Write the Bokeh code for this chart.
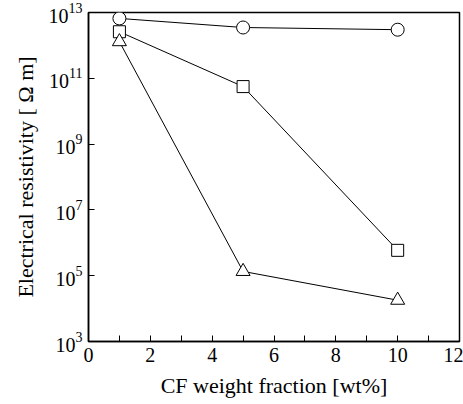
from bokeh.plotting import figure
from bokeh.models import FixedTicker, LogTickFormatter
from bokeh.embed import file_html
from bokeh.resources import INLINE

x = [1, 5, 10]
circle_vals = [6.6e12, 3.5e12, 3.0e12]
square_vals = [2.6e12, 5.6e10, 5.9e5]
triangle_vals = [1.3e12, 1.35e5, 1.8e4]
x_ticks = [0, 2, 4, 6, 8, 10, 12]
x_minor = [1, 3, 5, 7, 9, 11]
y_ticks = [1e3, 1e5, 1e7, 1e9, 1e11, 1e13]

FONT = "Liberation Serif"

p = figure(width=463, height=404, y_axis_type="log", x_range=(0, 12), y_range=(1e3, 1e13),
           output_backend="svg", toolbar_location=None,
           min_border_left=88, min_border_right=4, min_border_top=12, min_border_bottom=63)
p.grid.visible = False
p.outline_line_color = "black"
p.outline_line_width = 1.5

for xs, ys, marker, size in [(x, circle_vals, "circle", 13), (x, square_vals, "square", 12),
                             (x, triangle_vals, "triangle", 14)]:
    p.line(xs, ys, line_color="black", line_width=1)
    p.scatter(xs, ys, marker=marker, size=size, fill_color="white", line_color="black", line_width=1)

p.xaxis.ticker = FixedTicker(ticks=x_ticks, minor_ticks=x_minor)
p.yaxis.ticker = FixedTicker(ticks=y_ticks, minor_ticks=[])
p.yaxis.formatter = LogTickFormatter()

for ax in p.axis:
    ax.axis_line_width = 1.5
    ax.axis_line_color = "black"
    ax.major_tick_in = 6
    ax.major_tick_out = 0
    ax.minor_tick_in = 6
    ax.minor_tick_out = 0
    ax.major_tick_line_color = "black"
    ax.minor_tick_line_color = "black"
    ax.major_label_text_font = FONT
    ax.major_label_text_font_size = "20px"
    ax.major_label_text_color = "black"
    ax.axis_label_text_font = FONT
    ax.axis_label_text_font_size = "22px"
    ax.axis_label_text_font_style = "normal"
    ax.axis_label_text_color = "black"

p.xaxis.axis_label = "CF weight fraction [wt%]"
p.yaxis.axis_label = "Electrical resistivity [ \u03a9 m]"
p.xaxis.major_label_standoff = 6
p.xaxis.axis_label_standoff = 8
p.yaxis.major_label_standoff = 6
p.yaxis.axis_label_standoff = 8

open("out.html", "w").write(file_html(p, INLINE))
